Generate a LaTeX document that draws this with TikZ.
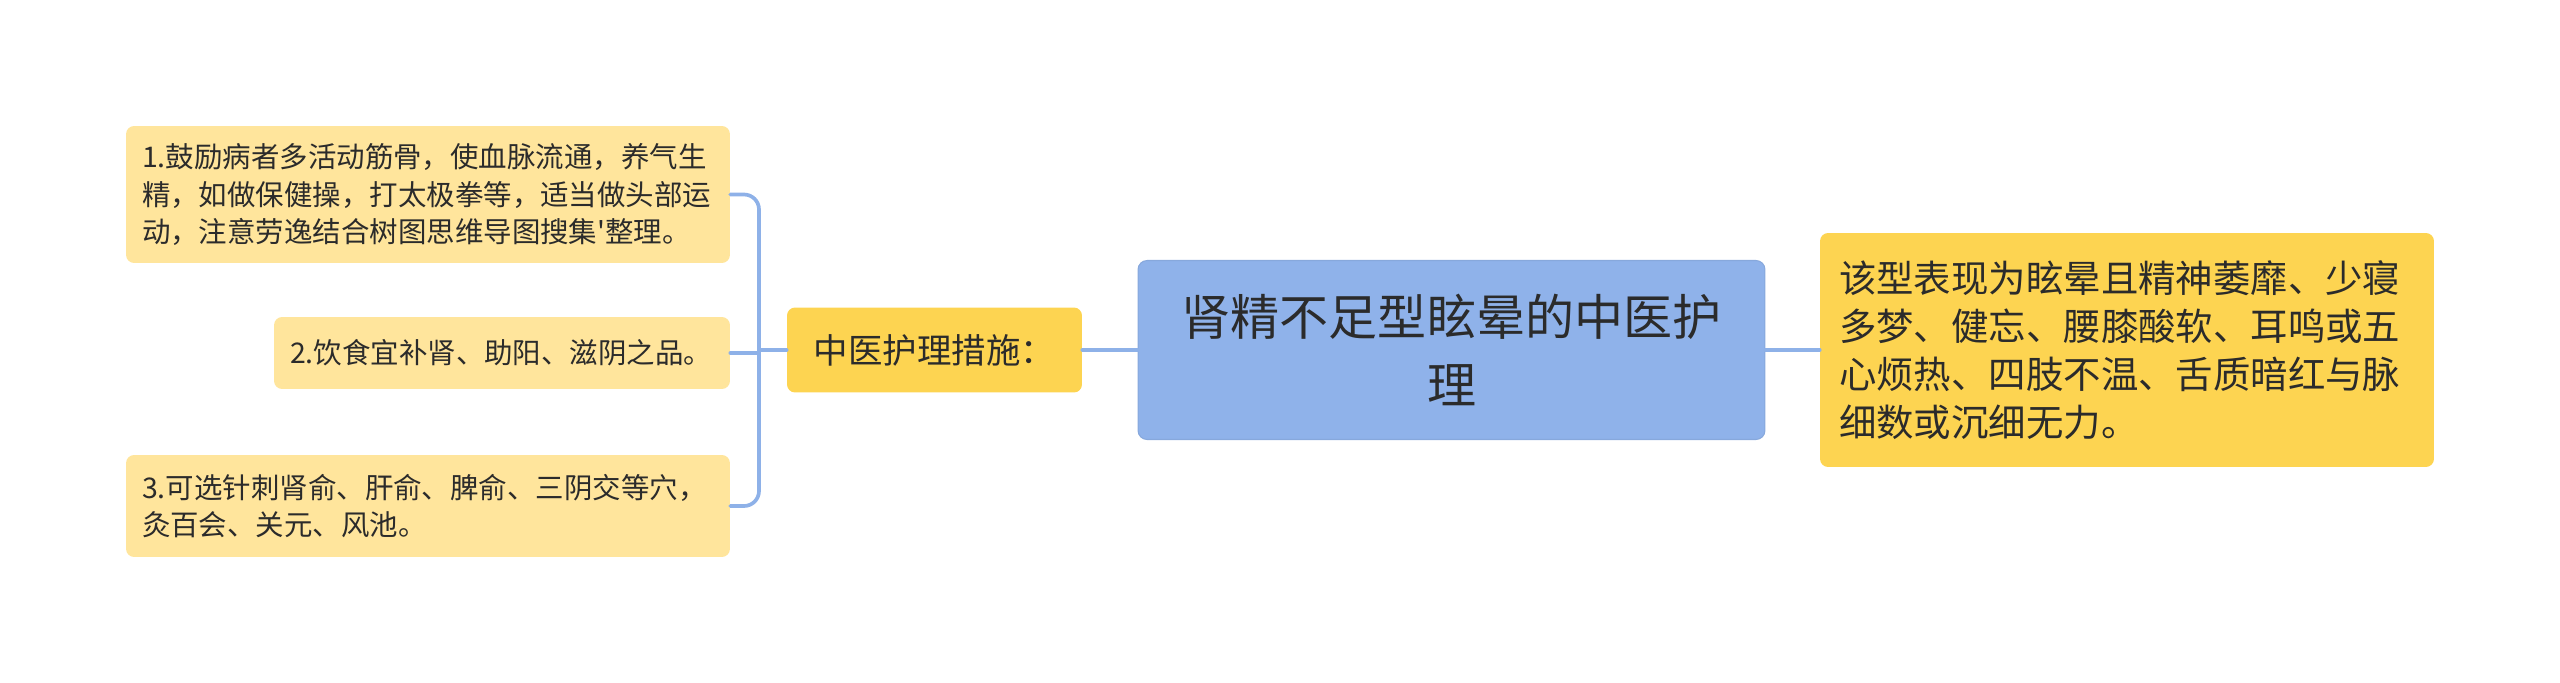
\documentclass[tikz,border=0pt]{standalone}
\usepackage{fontspec}
\newfontfamily\cjkfont{Noto Sans CJK SC}
\usetikzlibrary{arrows}
\definecolor{linkblue}{HTML}{8EB1E8}
\definecolor{rootblue}{HTML}{8FB2EA}
\definecolor{leafyellow}{HTML}{FFE59C}
\definecolor{subyellow}{HTML}{FDD451}
\definecolor{textgray}{HTML}{2B2B2B}

\begin{document}
\begin{tikzpicture}[line cap=round,line join=round,x=0.02cm,y=-0.02cm,
  leaf/.style={rectangle,rounded corners=0.16cm,fill=leafyellow,text=textgray,
    font=\cjkfont\fontsize{16.2}{21.3}\selectfont,align=left,inner xsep=0.32cm,inner ysep=0pt},
  subnode/.style={rectangle,rounded corners=0.16cm,fill=subyellow,text=textgray,
    font=\cjkfont\fontsize{19.6}{25}\selectfont,inner sep=0pt},
  rootnode/.style={rectangle,rounded corners=0.18cm,fill=rootblue,draw=linkblue!95!black,line width=0.6pt,
    text=textgray,font=\cjkfont\fontsize{27.9}{39}\selectfont,align=center,inner sep=0pt},
  link/.style={draw=linkblue,line width=2.1pt}]
\useasboundingbox (0,0) rectangle (2560,683);
\node[leaf,text width=11.44cm,minimum height=2.74cm] (b1) at (428,194.5) {1.鼓励病者多活动筋骨，使血脉流通，养气生\\精，如做保健操，打太极拳等，适当做头部运\\动，注意劳逸结合树图思维导图搜集'整理。};
\node[leaf,text width=8.48cm,minimum height=1.44cm] (b2) at (502,353) {2.饮食宜补肾、助阳、滋阴之品。};
\node[leaf,text width=11.44cm,minimum height=2.04cm] (b3) at (428,506) {3.可选针刺肾俞、肝俞、脾俞、三阴交等穴，\\灸百会、关元、风池。};
\node[subnode,minimum width=5.9cm,minimum height=1.7cm] (measures) at (934.5,350) {中医护理措施：};
\node[rootnode,minimum width=12.54cm,minimum height=3.58cm] (root) at (1451.5,350) {肾精不足型眩晕的中医护\\理};
\node[subnode,align=left,text width=11.52cm,inner xsep=0.38cm,minimum height=4.68cm,
  font=\cjkfont\fontsize{21.3}{27.3}\selectfont] (symptoms) at (2127,350) {该型表现为眩晕且精神萎靡、少寝\\多梦、健忘、腰膝酸软、耳鸣或五\\心烦热、四肢不温、舌质暗红与脉\\细数或沉细无力。};
\coordinate (fork) at (759,350);
\draw[link] (root.east) -- (symptoms.west);
\draw[link] (measures.east) -- (measures.east -| root.west);
\draw[link] (measures.west) -- (fork);
\draw[link] (b2.east) -- (b2.east -| fork);
\draw[link,rounded corners=0.3cm] (b1.east) -| (fork) |- (b3.east);
\end{tikzpicture}
\end{document}
